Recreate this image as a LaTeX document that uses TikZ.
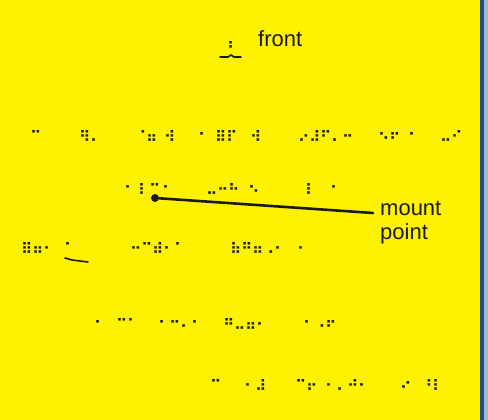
\documentclass[tikz,border=0pt]{standalone}
\usepackage{fontspec}
\setmainfont{Liberation Sans}
\newfontfamily\braillefont[FakeBold=1.5]{DejaVu Sans}
\usetikzlibrary{calc}
\definecolor{sheet}{HTML}{FFF200}
\definecolor{ink}{HTML}{1A1A1A}
\definecolor{frameblue}{HTML}{1F4E8C}
\definecolor{framegrey}{HTML}{A9B8CC}

\begin{document}
\begin{tikzpicture}[
  x=1pt, y=-1pt,
  dots/.style={font=\braillefont\fontsize{15}{15}\selectfont, text=ink,
    inner sep=0pt, anchor=west},
  caption/.style={font=\fontsize{22}{24}\selectfont, text=ink, inner sep=0pt,
    align=left},
  lead/.style={draw=ink, line width=2.6pt, line cap=round},
  tickline/.style={draw=ink, line width=1.6pt, line cap=round}
]
\useasboundingbox (0,0) rectangle (488,420);
\fill[sheet] (0,0) rectangle (480,420);
\fill[frameblue] (480,0) rectangle (484,420);
\fill[framegrey] (484,0) rectangle (488,420);

% ---------------------------------------------------------------------------
% top: front
% ---------------------------------------------------------------------------
\node[dots] (fr) at (227,47) {⠃};
\draw[tickline] (220,57) -- (228,57) -- (231,55) -- (234,57) -- (241,57);
\node[caption, anchor=west] (front) at (258,39) {front};

% ---------------------------------------------------------------------------
% braille rows
% ---------------------------------------------------------------------------
\node[dots] (a1) at (30,136) {⠉};
\node[dots] (a2) at (79,136) {⠻⠄};
\node[dots] (a4) at (135,136) {⠈⠶};
\node[dots] (a5) at (164,136) {⠺};
\node[dots] (a6) at (198,136) {⠂};
\node[dots] (a7) at (215,136) {⠿⠏};
\node[dots] (a8) at (250,136) {⠺};
\node[dots] (a9) at (298,136) {⠔⠼⠋⠄⠒};
\node[dots] (a11) at (378,136) {⠢⠖};
\node[dots] (a12) at (408,136) {⠂};
\node[dots] (a13) at (440,136) {⠤⠊};

\node[dots] (b1) at (124,189) {⠂};
\node[dots] (b2) at (138,189) {⠇⠉};
\node[dots] (b3) at (162,189) {⠂};
\node[dots] (b4) at (206,189) {⠤⠒⠓};
\node[dots] (b6) at (248,189) {⠢};
\node[dots] (b7) at (305,189) {⠇};
\node[dots] (b8) at (330,189) {⠂};

\node[dots] (c1) at (21,248) {⠿⠶⠂};
\node[dots] (c2) at (64,248) {⠁};
\draw[tickline] (65,258) -- (72,260) -- (88,262);
\node[dots] (c3) at (130,248) {⠒⠉⠾⠂⠁};
\node[dots] (c4) at (230,248) {⠷⠛⠶⠠⠂};
\node[dots] (c5) at (297,248) {⠄};

\node[dots] (d1) at (94,324) {⠂};
\node[dots] (d2) at (116,324) {⠉⠁};
\node[dots] (d3) at (158,324) {⠂⠒⠄⠂};
\node[dots] (d4) at (223,324) {⠛⠤⠶⠂};
\node[dots] (d5) at (303,324) {⠂⠠⠖};

\node[dots] (e1) at (210,385) {⠉};
\node[dots] (e2) at (244,385) {⠂⠼};
\node[dots] (e3) at (295,385) {⠉⠖};
\node[dots] (e4) at (325,385) {⠂⠄⠚⠂};
\node[dots] (e5) at (400,385) {⠔};
\node[dots] (e6) at (421,385) {⠘⠇};

% ---------------------------------------------------------------------------
% mount point
% ---------------------------------------------------------------------------
\node[circle, fill=ink, inner sep=0pt, minimum size=8pt] (mdot) at (155,198) {};
\node[caption, anchor=north west] (mlabel) at (380,201) {mount\\point};
\coordinate (mtip) at ($(mlabel.north west)+(-7,12)$);
\draw[lead] (mdot) -- (mtip);

\end{tikzpicture}
\end{document}
